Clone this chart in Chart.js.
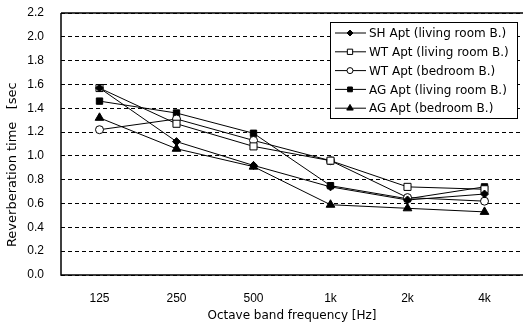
<!DOCTYPE html>
<html>
<head>
<meta charset="utf-8">
<script src="https://cdn.jsdelivr.net/npm/chart.js@4/dist/chart.umd.min.js"></script>
<style>
  html, body { margin: 0; padding: 0; background: #fff; }
  #wrap { width: 529px; height: 326px; position: relative; }
</style>
</head>
<body>
<div id="wrap"><canvas id="myChart"></canvas></div>
<script>
// octave bands
var bands = ['125', '250', '500', '1k', '2k', '4k'];

// reverberation time [sec]
var shLiving = [1.57, 1.12, 0.92, 0.74, 0.63, 0.68];
var wtLiving = [1.57, 1.27, 1.08, 0.96, 0.74, 0.72];
var wtBedroom = [1.22, 1.31, 1.13, 0.96, 0.65, 0.62];
var agLiving = [1.46, 1.36, 1.19, 0.75, 0.64, 0.74];
var agBedroom = [1.32, 1.06, 0.91, 0.59, 0.56, 0.53];

var seriesNames = [
    'SH Apt (living room B.)',
    'WT Apt (living room B.)',
    'WT Apt (bedroom B.)',
    'AG Apt (living room B.)',
    'AG Apt (bedroom B.)'
];

var FONT = "'Liberation Sans', Arial, sans-serif";
var WIDE = "'DejaVu Sans', Verdana, sans-serif";

function series(label, data, style, radius, fill) {
    return {
        label: label,
        data: data,
        borderColor: '#000',
        borderWidth: 1,
        backgroundColor: fill,
        pointStyle: style,
        pointRadius: radius,
        pointBorderColor: '#000',
        pointBackgroundColor: fill,
        pointBorderWidth: 1,
        tension: 0
    };
}

// solid frame lines on top of the dashed grid
const framePlugin = {
    id: 'frame',
    beforeDatasetsDraw(chart) {
        const a = chart.chartArea;
        const ctx = chart.ctx;
        ctx.save();
        ctx.strokeStyle = '#000';
        ctx.lineWidth = 1.5;
        ctx.beginPath();
        ctx.moveTo(a.left, a.top);
        ctx.lineTo(a.right, a.top);
        ctx.moveTo(a.left, a.top);
        ctx.lineTo(a.left, a.bottom);
        ctx.lineTo(a.right, a.bottom);
        ctx.stroke();
        ctx.restore();
    }
};

// boxed legend inside the plot, upper right
const boxLegend = {
    id: 'boxLegend',
    afterDraw(chart) {
        const a = chart.chartArea;
        const ctx = chart.ctx;
        const w = 187, rowH = 18.8;
        const h = rowH * chart.data.datasets.length + 2;
        const x0 = a.right - 6 - w;
        const y0 = a.top + 9;
        ctx.save();
        ctx.fillStyle = '#fff';
        ctx.fillRect(x0, y0, w, h);
        ctx.strokeStyle = '#000';
        ctx.lineWidth = 1;
        ctx.strokeRect(x0 + 0.5, y0 + 0.5, w, h);
        chart.data.datasets.forEach(function(ds, i) {
            const cy = y0 + 11 + i * rowH;
            ctx.strokeStyle = '#000';
            ctx.beginPath();
            ctx.moveTo(x0 + 5, cy);
            ctx.lineTo(x0 + 36, cy);
            ctx.stroke();
            ctx.fillStyle = ds.pointBackgroundColor;
            Chart.helpers.drawPoint(ctx, {
                pointStyle: ds.pointStyle,
                radius: ds.pointRadius * 0.75,
                borderWidth: 1,
                rotation: 0
            }, x0 + 20, cy);
            ctx.fillStyle = '#000';
            ctx.font = '12px ' + WIDE;
            ctx.textBaseline = 'middle';
            ctx.textAlign = 'left';
            ctx.fillText(ds.label, x0 + 39, cy + 1);
        });
        ctx.restore();
    }
};

const ctxc = document.getElementById('myChart');
const config = {
    type: 'line',
    data: {
        labels: bands,
        datasets: [
            series(seriesNames[0], shLiving, 'rectRot', 4, '#000'),
            series(seriesNames[1], wtLiving, 'rect', 5, '#fff'),
            series(seriesNames[2], wtBedroom, 'circle', 4, '#fff'),
            series(seriesNames[3], agLiving, 'rect', 4.5, '#000'),
            series(seriesNames[4], agBedroom, 'triangle', 5, '#000')
        ]
    },
    options: {
        responsive: true,
        maintainAspectRatio: false,
        animation: false,
        layout: { padding: { top: 13, right: 2, left: 0, bottom: 0 } },
        plugins: {
            legend: { display: false },
            tooltip: { enabled: false }
        },
        scales: {
            x: {
                offset: true,
                grid: { display: false, drawTicks: false },
                border: { display: false },
                ticks: {
                    color: '#000',
                    padding: 16,
                    font: { family: FONT, size: 12 }
                },
                title: {
                    display: true,
                    text: 'Octave band frequency [Hz]',
                    color: '#000',
                    padding: { top: 0, bottom: 3 },
                    font: { family: WIDE, size: 12 }
                },
                afterFit: function(scale) {
                    scale.height = 51;
                    scale.paddingLeft = 0;
                    scale.paddingRight = 0;
                }
            },
            y: {
                min: 0,
                max: 2.2,
                grid: {
                    color: '#000',
                    lineWidth: 1,
                    drawTicks: false
                },
                border: { display: false, dash: [4, 3] },
                ticks: {
                    stepSize: 0.2,
                    color: '#000',
                    padding: 17,
                    font: { family: FONT, size: 12 },
                    callback: function(v) { return v.toFixed(1); }
                },
                title: {
                    display: true,
                    // trailing spaces push the visible text down, as in the original
                    text: 'Reverberation time   [sec\u00a0\u00a0\u00a0\u00a0\u00a0\u00a0\u00a0\u00a0\u00a0\u00a0',
                    color: '#000',
                    padding: { top: 5, bottom: 0 },
                    font: { family: WIDE, size: 13 }
                },
                afterFit: function(scale) {
                    scale.width = 61;
                    // keep the plot edges where the original has them
                    scale.paddingTop = 0;
                    scale.paddingBottom = 0;
                }
            }
        }
    },
    plugins: [framePlugin, boxLegend]
};
const chart = new Chart(ctxc, config);
</script>
</body>
</html>
